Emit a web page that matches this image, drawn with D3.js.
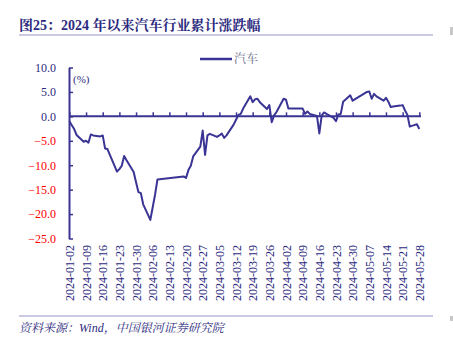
<!DOCTYPE html>
<html><head><meta charset="utf-8">
<script src="https://cdn.jsdelivr.net/npm/d3@7"></script>
<style>
html,body{margin:0;padding:0;background:#fff;}
svg{display:block;}
</style></head>
<body>
<script>
const tradeDates = [
"2024-01-02","2024-01-03","2024-01-04","2024-01-05","2024-01-08","2024-01-09","2024-01-10","2024-01-11","2024-01-12",
"2024-01-15","2024-01-16","2024-01-17","2024-01-18","2024-01-19","2024-01-22","2024-01-23","2024-01-24","2024-01-25","2024-01-26",
"2024-01-29","2024-01-30","2024-01-31","2024-02-01","2024-02-02","2024-02-05","2024-02-06","2024-02-07","2024-02-08",
"2024-02-19","2024-02-20","2024-02-21","2024-02-22","2024-02-23","2024-02-26","2024-02-27","2024-02-28","2024-02-29",
"2024-03-01","2024-03-04","2024-03-05","2024-03-06","2024-03-07","2024-03-08","2024-03-11","2024-03-12","2024-03-13","2024-03-14","2024-03-15",
"2024-03-18","2024-03-19","2024-03-20","2024-03-21","2024-03-22","2024-03-25","2024-03-26","2024-03-27","2024-03-28","2024-03-29",
"2024-04-01","2024-04-02","2024-04-03","2024-04-08","2024-04-09","2024-04-10","2024-04-11","2024-04-12",
"2024-04-15","2024-04-16","2024-04-17","2024-04-18","2024-04-19","2024-04-22","2024-04-23","2024-04-24","2024-04-25","2024-04-26",
"2024-04-29","2024-04-30","2024-05-06","2024-05-07","2024-05-08","2024-05-09","2024-05-10",
"2024-05-13","2024-05-14","2024-05-15","2024-05-16","2024-05-17","2024-05-20","2024-05-21","2024-05-22","2024-05-23","2024-05-24",
"2024-05-27","2024-05-28"];

const autoValues = [
-1.0,-1.8,-2.6,-3.8,-5.2,-5.0,-5.4,-3.7,-3.9,
-4.1,-3.9,-6.6,-6.7,-7.9,-11.3,-10.8,-10.1,-8.1,-9.0,
-11.4,-13.5,-15.5,-15.7,-18.0,-21.2,-18.6,-16.0,-12.9,
-12.3,-12.6,-11.0,-10.1,-8.2,-6.2,-2.9,-7.9,-3.9,
-3.6,-4.2,-3.9,-3.5,-4.4,-3.9,-1.7,-0.7,0.3,0.5,1.6,
4.1,2.9,3.5,3.6,2.9,1.5,2.3,-1.2,0.2,0.9,
3.6,3.4,1.6,1.6,1.6,0.5,1.0,0.5,
0.1,-3.5,0.2,0.8,0.5,-0.3,-1.0,0.4,0.5,3.0,
4.3,3.2,5.0,5.1,3.6,4.6,4.1,
3.2,3.8,3.0,1.9,2.0,2.2,2.3,1.2,0.3,-2.1,
-1.6,-2.6];

const xTickLabels = ["2024-01-02","2024-01-09","2024-01-16","2024-01-23","2024-01-30","2024-02-06","2024-02-13",
"2024-02-20","2024-02-27","2024-03-05","2024-03-12","2024-03-19","2024-03-26","2024-04-02","2024-04-09",
"2024-04-16","2024-04-23","2024-04-30","2024-05-07","2024-05-14","2024-05-21","2024-05-28"];

const yTicks = [10,5,0,-5,-10,-15,-20,-25];
const seriesName = "汽车";
const titleText = "图25：2024 年以来汽车行业累计涨跌幅";
const unitText = "(%)";
const sourceText = "资料来源：Wind，中国银河证券研究院";

const W = 453, H = 338;
const navy = "#2c2a7e", lineCol = "#3a3494", red = "#ff0000", rule = "#b8b8dc";
const serif = "'Liberation Serif','Times New Roman','Noto Serif CJK SC','Noto Sans CJK SC',serif";

const parse = d3.timeParse("%Y-%m-%d");
const data = tradeDates.map((d,i)=>({date:parse(d), v:autoValues[i]}));

const svg = d3.select("body").append("svg").attr("width",W).attr("height",H);

// title
svg.append("text").attr("x",19).attr("y",30).text(titleText)
  .attr("font-family",serif).attr("font-weight","bold").attr("font-size",14).attr("fill",navy);
svg.append("line").attr("x1",19).attr("x2",433).attr("y1",35).attr("y2",35).attr("stroke",rule).attr("stroke-width",1.5);
// footer
svg.append("line").attr("x1",19).attr("x2",433).attr("y1",316).attr("y2",316).attr("stroke",rule).attr("stroke-width",1.5);
svg.append("text").attr("x",19).attr("y",332).text(sourceText)
  .attr("font-family",serif).attr("font-style","italic").attr("font-size",12).attr("fill",navy);
// edge marks
svg.append("rect").attr("x",450).attr("y",27).attr("width",3).attr("height",8).attr("fill","#c8c8c8");
svg.append("rect").attr("x",450).attr("y",316).attr("width",3).attr("height",5).attr("fill","#c8c8c8");

const x = d3.scaleTime().domain([parse("2024-01-02"), parse("2024-05-28")]).range([69.4, 419.3]);
const y = d3.scaleLinear().domain([-25,10]).range([238.5,67.5]);

// y axis
const yAxis = svg.append("g").attr("transform","translate(69,0)")
  .call(d3.axisLeft(y).tickValues(yTicks).tickSizeInner(-4).tickSizeOuter(0).tickPadding(13).tickFormat(d3.format(".1f")));
yAxis.select(".domain").attr("stroke",lineCol).attr("stroke-width",2);
yAxis.selectAll(".tick line").attr("stroke",lineCol).attr("stroke-width",1.5);
yAxis.selectAll(".tick text").attr("font-family",serif).attr("font-size",12)
  .attr("fill",d=>d<0?red:navy);

// zero axis with ticks upward
const xAxis = svg.append("g").attr("transform",`translate(0,${y(0)})`)
  .call(d3.axisTop(x).tickValues(xTickLabels.map(parse)).tickSizeInner(4).tickSizeOuter(0).tickFormat(""));
xAxis.select(".domain").attr("stroke",lineCol).attr("stroke-width",2).attr("d",`M69,0H421`);
xAxis.selectAll(".tick line").attr("stroke",lineCol).attr("stroke-width",1.5);

// x labels
const xLab = svg.append("g").attr("transform","translate(0,245)")
  .call(d3.axisBottom(x).tickValues(xTickLabels.map(parse)).tickSize(0).tickPadding(0).tickFormat(d3.timeFormat("%Y-%m-%d")));
xLab.select(".domain").remove();
xLab.selectAll(".tick text").attr("font-family",serif).attr("font-size",12).attr("fill",navy)
  .attr("transform","rotate(-90)").attr("text-anchor","end").attr("x",0).attr("y",0).attr("dy","0.35em").attr("dx",0);

// unit
svg.append("text").attr("x",73).attr("y",83).text(unitText).attr("font-family",serif).attr("font-size",11).attr("fill",navy);

// line
svg.append("path").datum(data)
  .attr("d", d3.line().x(d=>x(d.date)).y(d=>y(d.v)))
  .attr("fill","none").attr("stroke",lineCol).attr("stroke-width",2).attr("stroke-linejoin","round");

// legend
svg.append("line").attr("x1",200).attr("x2",232).attr("y1",59).attr("y2",59).attr("stroke",lineCol).attr("stroke-width",2.5);
svg.append("text").attr("x",234).attr("y",63).text(seriesName).attr("font-family",serif).attr("font-size",12).attr("fill","#6a6a8a");
</script>
</body></html>
